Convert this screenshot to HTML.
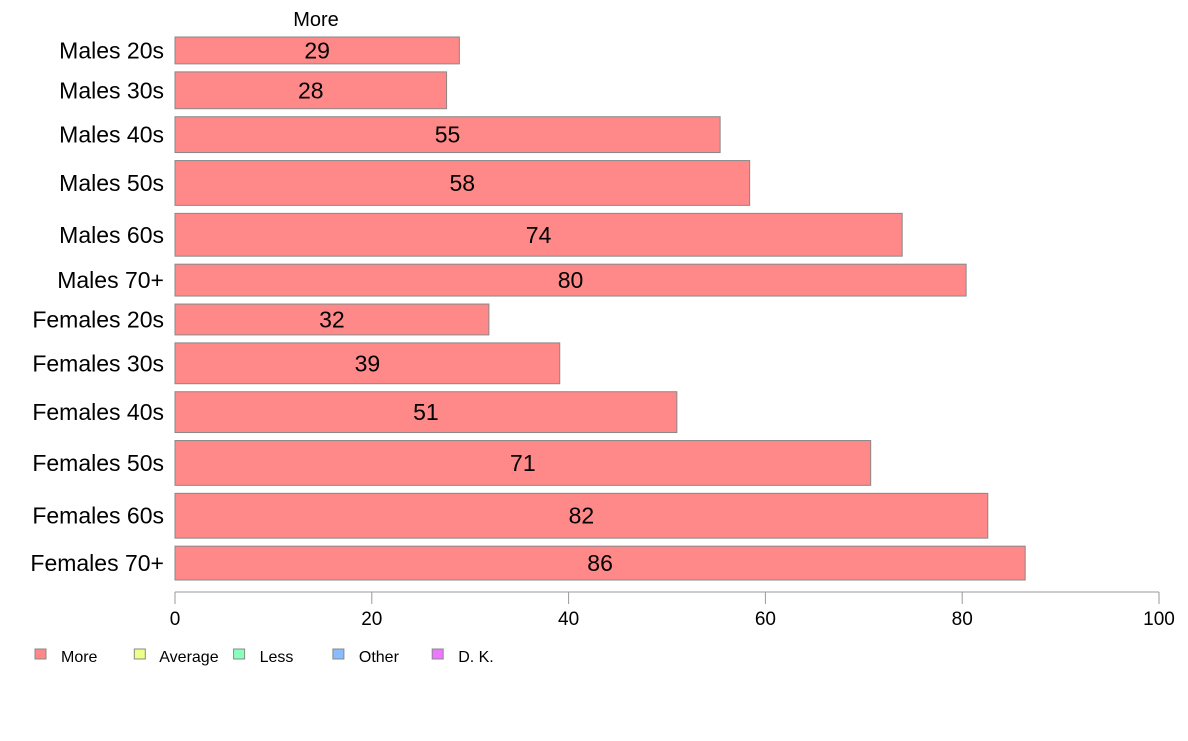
<!DOCTYPE html>
<html><head><meta charset="utf-8"><style>
body{margin:0;background:#fff;}
svg{font-family:"Liberation Sans",Arial,sans-serif;}
</style></head><body>
<svg id="chart" width="1188" height="736">
<text x="316" y="26" font-size="20" text-anchor="middle">More</text>
<g id="bars"></g>
<g id="axis"></g>
<g id="legend"></g>
</svg>
<script>
const categories=["Males 20s","Males 30s","Males 40s","Males 50s","Males 60s","Males 70+","Females 20s","Females 30s","Females 40s","Females 50s","Females 60s","Females 70+"];
const values=[28.9,27.6,55.4,58.4,73.9,80.4,31.9,39.1,51.0,70.7,82.6,86.4];
const valueLabels=["29","28","55","58","74","80","32","39","51","71","82","86"];
const barWeights=[27,37,36,45,43,32,31,41,41,45,45,34];
const ticks=[0,20,40,60,80,100];
const legendLabels=["More","Average","Less","Other","D. K."];
const legendColors=["#ff8888","#eeff88","#88ffbb","#88bbff","#ee77ff"];
const NS="http://www.w3.org/2000/svg";
const x0=175,x1=1159,yTop=37,yBottom=580;
const xs=v=>x0+(v/100)*(x1-x0);
const gap=8;
const totalW=barWeights.reduce((a,b)=>a+b,0);
const unit=(yBottom-yTop-gap*(categories.length-1))/totalW;
function mk(tag,attrs,parent){const e=document.createElementNS(NS,tag);for(const k in attrs)e.setAttribute(k,attrs[k]);parent.appendChild(e);return e;}
const bars=document.getElementById('bars');
let yy=yTop;
categories.forEach((c,i)=>{
  const h=barWeights[i]*unit;
  const r=mk('rect',{x:x0,y:yy,width:xs(values[i])-x0,height:h,fill:'#ff8888',stroke:'#888','stroke-width':1},bars);
  
  
  const t=mk('text',{x:(x0+xs(values[i]))/2,y:yy+h/2+8,'font-size':23,'text-anchor':'middle'},bars);
  t.textContent=valueLabels[i];
  
  
  const l=mk('text',{x:164,y:yy+h/2+8,'font-size':23,'text-anchor':'end'},bars);
  l.textContent=c;
  
  
  yy+=h+gap;
});
const ax=document.getElementById('axis');
mk('line',{x1:x0,x2:x1,y1:592,y2:592,stroke:'#999'},ax);
ticks.forEach(v=>{
  mk('line',{x1:xs(v),x2:xs(v),y1:592,y2:604,stroke:'#999'},ax);
  const t=mk('text',{x:xs(v),y:625,'font-size':19,'text-anchor':'middle'},ax);
  t.textContent=v;
  
  
});
const lg=document.getElementById('legend');
legendLabels.forEach((l,i)=>{
  const bx=35+i*99.3;
  mk('rect',{x:bx,y:649,width:11,height:10,fill:legendColors[i],stroke:'#888'},lg);
  const t=mk('text',{x:bx+(i===1?25:26),y:662,'font-size':16},lg);
  t.textContent=l;
  
  
});
</script>
</body></html>
